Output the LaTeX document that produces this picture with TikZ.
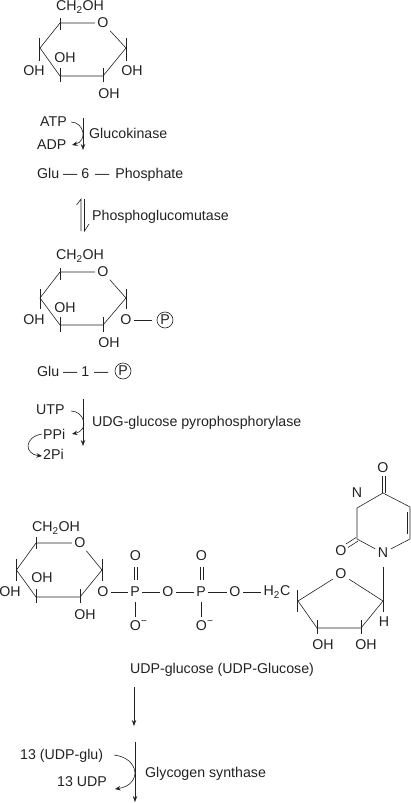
\documentclass[tikz,border=0pt]{standalone}
\usepackage{fontspec}
\setmainfont{Liberation Sans}
\usetikzlibrary{arrows.meta}
\definecolor{ink}{HTML}{222222}
\tikzset{
  x=1pt,y=-1pt,
  lbl/.style={inner sep=0pt,text=ink,font=\fontsize{14.2}{16}\selectfont},
  lft/.style={lbl,anchor=west},
  atom/.style={lbl,inner sep=2.5pt},
  bond/.style={draw=ink,line width=0.6pt},
  tick/.style={draw=ink,line width=0.7pt},
  rct/.style={draw=ink,line width=0.7pt,-{Stealth[length=6pt,width=4.5pt]}},
  side/.style={draw=ink,line width=0.6pt,-{Stealth[length=5.5pt,width=4.5pt]}},
  pcirc/.style={lbl,circle,draw=ink,line width=0.6pt,minimum size=16pt,inner sep=0pt},
}
\begin{document}
\begin{tikzpicture}
\useasboundingbox (0,0) rectangle (411,803);
% ---- ring 1
\node[atom] (ao) at (103,23) {O};
\coordinate (a1) at (126,48); \coordinate (a2) at (103,76); \coordinate (a3) at (60,76);
\coordinate (a4) at (40,48); \coordinate (a5) at (60,23);
\draw[bond] (ao)--(a1)--(a2)--(a3)--(a4)--(a5)--(ao);
\node[lbl] (ach) at (80,7) {CH\textsubscript{2}OH};
\draw[tick] (60,18)--(60,30) (39.5,38)--(39.5,61) (126.5,38)--(126.5,61) (60,68)--(60,82) (103,68)--(103,82);
\node[lbl] (aoh1) at (34,71) {OH}; \node[lbl] (aoh2) at (65,58) {OH};
\node[lbl] (aoh3) at (132,71) {OH}; \node[lbl] (aoh4) at (109,94) {OH};
% ---- glucokinase
\node[lft] (atp) at (40,122) {ATP}; \node[lft] (adp) at (37,145) {ADP};
\coordinate (k1) at (83,118); \coordinate (k2) at (83,150);
\draw[rct] (k1)--(k2);
\draw[side] (71,122) .. controls (84,122) and (88,141) .. (72,145);
\node[lft] (gk) at (89,133) {Glucokinase};
\node[lft] (g6) at (37,174.5) {Glu — 6\kern2pt\ — \kern2pt Phosphate};
% ---- mutase
\coordinate (m1) at (81,231); \coordinate (m2) at (81,199);
\coordinate (m3) at (84.5,199); \coordinate (m4) at (84.5,231);
\draw[bond] (m1)--(m2)--(76.5,205);
\draw[bond] (m3)--(m4)--(89,224);
\node[lft] (pgm) at (92,216.5) {Phosphoglucomutase};
% ---- ring 2
\node[atom] (bo) at (103,272) {O};
\coordinate (b1) at (126,298); \coordinate (b2) at (103,325); \coordinate (b3) at (60,325);
\coordinate (b4) at (40,298); \coordinate (b5) at (60,272);
\draw[bond] (bo)--(b1)--(b2)--(b3)--(b4)--(b5)--(bo);
\node[lbl] (bch) at (80,256) {CH\textsubscript{2}OH};
\draw[tick] (60,268)--(60,280) (40,289)--(40,309) (126.5,289)--(126.5,309) (60,317)--(60,332) (103,317)--(103,332);
\node[lbl] (boh1) at (34,320) {OH}; \node[lbl] (boh2) at (65,308) {OH}; \node[lbl] (boh4) at (109,343) {OH};
\node[atom] (bo2) at (126,320) {O}; \node[pcirc] (bp) at (165,320) {P};
\draw[bond,shorten >=5pt] (bo2)--(bp);
% ---- glu-1-P
\node[lft] (g1) at (37,371) {Glu — 1\kern1pt\ —};
\node[pcirc] (g1p) at (123,371) {P};
% ---- UDPG pyrophosphorylase
\node[lft] (utp) at (36,410) {UTP}; \node[lft] (ppi) at (43,434) {PPi}; \node[lft] (tpi) at (43,454) {2Pi};
\coordinate (u1) at (83,399); \coordinate (u2) at (83,446);
\draw[rct] (u1)--(u2);
\draw[side] (71,411) .. controls (84,411) and (90,430) .. (72,434);
\draw[side] (42,434) .. controls (24,437) and (24,454) .. (42,456);
\node[lft] (ugp) at (92,422.5) {UDG-glucose pyrophosphorylase};
% ---- ring 3
\node[atom] (co) at (80,543) {O};
\coordinate (c1) at (102,570); \coordinate (c2) at (80,597); \coordinate (c3) at (36,597);
\coordinate (c4) at (16.5,570); \coordinate (c5) at (36,543);
\draw[bond] (co)--(c1)--(c2)--(c3)--(c4)--(c5)--(co);
\node[lbl] (cch) at (56,528) {CH\textsubscript{2}OH};
\draw[tick] (36,537)--(36,549) (16.5,559)--(16.5,581) (102.5,559)--(102.5,581) (36,589)--(36,603) (80,589)--(80,603);
\node[lbl] (coh1) at (10,592) {OH}; \node[lbl] (coh2) at (42,578) {OH}; \node[lbl] (coh4) at (85,615) {OH};
% ---- phosphate chain
\node[atom] (o1) at (103,592) {O}; \node[atom] (p1) at (135,592) {P};
\node[atom] (o2) at (168,592) {O}; \node[atom] (p2) at (201,592) {P};
\node[atom] (o3) at (235,592) {O};
\node[atom] (h2c) at (277,592) {H\textsubscript{2}C};
\draw[bond] (o1)--(p1); \draw[bond] (p1)--(o2); \draw[bond] (o2)--(p2); \draw[bond] (p2)--(o3); \draw[bond] (o3)--(h2c);
\node[atom] (p1u) at (135.5,556) {O}; \node[atom] (p2u) at (201.5,556) {O};
\node[atom] (p1d) at (135.5,626) {O}; \node[atom] (p2d) at (201.5,626) {O};
\node[lbl,anchor=west,font=\fontsize{10}{10}\selectfont] (m1s) at (141,622.5) {−};
\node[lbl,anchor=west,font=\fontsize{10}{10}\selectfont] (m2s) at (207,622.5) {−};
\draw[bond] (134,567)--(134,580) (137,567)--(137,580) (200,567)--(200,580) (203,567)--(203,580);
\draw[bond] (135.5,602)--(135.5,617) (201.5,602)--(201.5,617);
% ---- ribose
\node[atom] (ro) at (341,574) {O};
\coordinate (r1) at (383,601); \coordinate (r2) at (361,628); \coordinate (r3) at (317,628); \coordinate (r4) at (298,601);
\draw[bond] (ro)--(r1)--(r2)--(r3)--(r4)--(ro);
\draw[tick] (297.5,590)--(297.5,612) (317,620)--(317,634) (361,620)--(361,634);
\node[lbl] (rh) at (384,622) {H};
\node[lbl] (roh1) at (323,645) {OH}; \node[lbl] (roh2) at (366,645) {OH};
\draw[bond] (383,567)--(383,612);
% ---- uracil
\node[atom] (un) at (383,553) {N};
\coordinate (u6) at (410,539); \coordinate (u5) at (410,507); \coordinate (u4) at (383,493);
\coordinate (u3) at (357,508); \coordinate (u2r) at (357,539);
\draw[bond] (un)--(u6)--(u5)--(u4)--(u3)--(u2r)--(un);
\draw[bond] (407,512)--(407,534);
\node[lbl] (unh) at (357,493) {N};
\node[atom] (uo4) at (383,468) {O}; \node[atom] (uo2) at (341,551) {O};
\draw[bond] (382,476)--(382,493) (385,476)--(385,493);
\draw[bond] (356,537.5)--(346,544) (358,541)--(348,547.5);
% ---- bottom
\node[lbl] (udpg) at (222,669.5) {UDP-glucose (UDP-Glucose)};
\coordinate (d1) at (134,687); \coordinate (d2) at (134,726);
\draw[rct] (d1)--(d2);
\coordinate (e1) at (135,742); \coordinate (e2) at (135,802);
\draw[rct] (e1)--(e2);
\node[lft] (u13) at (20,756) {13 (UDP-glu)}; \node[lft] (d13) at (57,781.5) {13 UDP};
\draw[side] (114,755) .. controls (140,758) and (142,785) .. (115,789);
\node[lft] (gs) at (145,773.5) {Glycogen synthase};
\end{tikzpicture}
\end{document}
